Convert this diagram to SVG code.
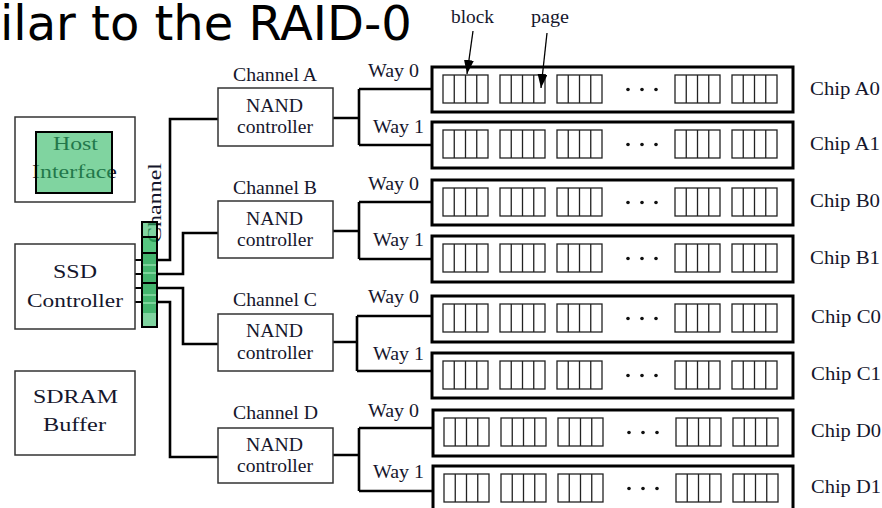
<svg xmlns="http://www.w3.org/2000/svg" xmlns:xlink="http://www.w3.org/1999/xlink" width="882" height="508" viewBox="0 0 882 508">
<style>
.t{font-family:"Liberation Serif","Times New Roman",serif;font-size:18px;fill:#15162c}
.box{fill:#fff;stroke:#333;stroke-width:1.5}
.chip{fill:#fff;stroke:#000;stroke-width:3}
.pg{fill:none;stroke:#222;stroke-width:1.3}
.w{fill:none;stroke:#000;stroke-width:2.6}
.stub{fill:none;stroke:#000;stroke-width:2}
.dot{fill:#111}
</style>
<defs>
<g id="blk">
<rect class="pg" x="0" y="0" width="45" height="28"/>
<path class="pg" d="M11.25 0V28M22.5 0V28M33.75 0V28"/>
</g>
<g id="inner">
<use xlink:href="#blk" href="#blk" x="11" y="8"/>
<use xlink:href="#blk" href="#blk" x="68" y="8"/>
<use xlink:href="#blk" href="#blk" x="125" y="8"/>
<circle class="dot" cx="196" cy="22.5" r="1.8"/>
<circle class="dot" cx="210" cy="22.5" r="1.8"/>
<circle class="dot" cx="224" cy="22.5" r="1.8"/>
<use xlink:href="#blk" href="#blk" x="243" y="8"/>
<use xlink:href="#blk" href="#blk" x="300" y="8"/>
</g>
<marker id="ah" markerWidth="14" markerHeight="10" refX="14" refY="5" orient="auto" markerUnits="userSpaceOnUse" viewBox="0 0 14 10" preserveAspectRatio="none">
<path d="M0 0L14 5L0 10Z" fill="#000"/>
</marker>
</defs>

<text x="0" y="40" font-family="DejaVu Sans, Verdana, sans-serif" font-size="48" fill="#000">ilar to the RAID-0</text>

<g id="connectors">
<path class="stub" d="M135 260H142M135 274H142M135 288H142M135 302H142"/>
<path class="w" d="M157 260H170V119H218"/>
<path class="w" d="M157 274H183V233H218"/>
<path class="w" d="M157 288H183V344H218"/>
<path class="w" d="M157 302H170V457H218"/>
<path class="w" d="M333 118H359M359 89V145M359 89H432M359 145H432"/>
<path class="w" d="M333 231H359M359 202V259M359 202H432M359 259H432"/>
<path class="w" d="M333 342H357M357 316V371M357 316H432M357 371H432"/>
<path class="w" d="M333 455H359M359 428V491M359 428H432M359 491H432"/>
</g>

<g id="labels-top">
<text class="t" x="451" y="23" textLength="43" lengthAdjust="spacingAndGlyphs">block</text>
<text class="t" x="531" y="23" textLength="38" lengthAdjust="spacingAndGlyphs">page</text>
</g>

<g id="host">
<rect class="box" x="15" y="117" width="120" height="85"/>
<text class="t" x="53" y="150" font-size="20" textLength="45" lengthAdjust="spacingAndGlyphs">Host</text>
<text class="t" x="32" y="178" font-size="20" textLength="85" lengthAdjust="spacingAndGlyphs">Interface</text>
<rect x="36" y="132" width="76" height="61" fill="#2bb761" fill-opacity="0.6" stroke="#000" stroke-width="2"/>
</g>

<g id="ssd">
<rect class="box" x="15" y="244" width="120" height="85"/>
<text class="t" x="53" y="278" font-size="20" textLength="44" lengthAdjust="spacingAndGlyphs">SSD</text>
<text class="t" x="27" y="307" font-size="20" textLength="96" lengthAdjust="spacingAndGlyphs">Controller</text>
</g>

<g id="sdram">
<rect class="box" x="15" y="371" width="120" height="84"/>
<text class="t" x="33" y="403" font-size="20" textLength="85" lengthAdjust="spacingAndGlyphs">SDRAM</text>
<text class="t" x="43" y="431" font-size="20" textLength="63" lengthAdjust="spacingAndGlyphs">Buffer</text>
</g>

<g id="channel-bus">
<text class="t" transform="translate(161,243) rotate(-90)" font-size="19" fill="#1a2a6a" textLength="80" lengthAdjust="spacingAndGlyphs">Channel</text>
<rect x="142" y="222" width="15" height="105" fill="#2bb761" fill-opacity="0.6"/>
<rect x="142" y="237" width="15" height="16" fill="#2bb761" fill-opacity="0.5"/>
<rect x="142" y="253" width="15" height="60" fill="#129a45" fill-opacity="0.55"/>
<path d="M142 265H157M142 273H157M142 295H157M142 303H157" stroke="#8fe0aa" stroke-width="1.5"/>
<path d="M142 237H157M142 253H157M142 283H157" stroke="#000" stroke-width="2"/>
<rect x="142" y="222" width="15" height="105" fill="none" stroke="#000" stroke-width="2"/>
</g>

<g id="nand-a">
<text class="t" x="233" y="81" textLength="84" lengthAdjust="spacingAndGlyphs">Channel A</text>
<rect class="box" x="218" y="88" width="115" height="58"/>
<text class="t" x="246" y="112" textLength="57" lengthAdjust="spacingAndGlyphs">NAND</text>
<text class="t" x="237" y="133" textLength="76" lengthAdjust="spacingAndGlyphs">controller</text>
<text class="t" x="368" y="77" textLength="51" lengthAdjust="spacingAndGlyphs">Way 0</text>
<text class="t" x="373" y="133" textLength="51" lengthAdjust="spacingAndGlyphs">Way 1</text>
</g>
<g id="nand-b">
<text class="t" x="233" y="194" textLength="84" lengthAdjust="spacingAndGlyphs">Channel B</text>
<rect class="box" x="218" y="201" width="115" height="57"/>
<text class="t" x="246" y="225" textLength="57" lengthAdjust="spacingAndGlyphs">NAND</text>
<text class="t" x="237" y="246" textLength="76" lengthAdjust="spacingAndGlyphs">controller</text>
<text class="t" x="368" y="190" textLength="51" lengthAdjust="spacingAndGlyphs">Way 0</text>
<text class="t" x="373" y="246" textLength="51" lengthAdjust="spacingAndGlyphs">Way 1</text>
</g>
<g id="nand-c">
<text class="t" x="233" y="306" textLength="84" lengthAdjust="spacingAndGlyphs">Channel C</text>
<rect class="box" x="218" y="314" width="115" height="57"/>
<text class="t" x="246" y="337" textLength="57" lengthAdjust="spacingAndGlyphs">NAND</text>
<text class="t" x="237" y="359" textLength="76" lengthAdjust="spacingAndGlyphs">controller</text>
<text class="t" x="368" y="303" textLength="51" lengthAdjust="spacingAndGlyphs">Way 0</text>
<text class="t" x="373" y="360" textLength="51" lengthAdjust="spacingAndGlyphs">Way 1</text>
</g>
<g id="nand-d">
<text class="t" x="233" y="419" textLength="85" lengthAdjust="spacingAndGlyphs">Channel D</text>
<rect class="box" x="218" y="428" width="115" height="55"/>
<text class="t" x="246" y="451" textLength="57" lengthAdjust="spacingAndGlyphs">NAND</text>
<text class="t" x="237" y="472" textLength="76" lengthAdjust="spacingAndGlyphs">controller</text>
<text class="t" x="368" y="417" textLength="51" lengthAdjust="spacingAndGlyphs">Way 0</text>
<text class="t" x="373" y="478" textLength="51" lengthAdjust="spacingAndGlyphs">Way 1</text>
</g>

<g id="chip-a0"><rect class="chip" x="432" y="67" width="361" height="45"/><use xlink:href="#inner" href="#inner" x="432" y="67"/><text class="t" x="810" y="95" textLength="70" lengthAdjust="spacingAndGlyphs">Chip A0</text></g>
<g id="chip-a1"><rect class="chip" x="432" y="122" width="361" height="46"/><use xlink:href="#inner" href="#inner" x="432" y="122"/><text class="t" x="810" y="150" textLength="70" lengthAdjust="spacingAndGlyphs">Chip A1</text></g>
<g id="chip-b0"><rect class="chip" x="432" y="180" width="361" height="45"/><use xlink:href="#inner" href="#inner" x="432" y="180"/><text class="t" x="810" y="207" textLength="70" lengthAdjust="spacingAndGlyphs">Chip B0</text></g>
<g id="chip-b1"><rect class="chip" x="432" y="236" width="361" height="46"/><use xlink:href="#inner" href="#inner" x="432" y="236"/><text class="t" x="810" y="264" textLength="70" lengthAdjust="spacingAndGlyphs">Chip B1</text></g>
<g id="chip-c0"><rect class="chip" x="432" y="296" width="361" height="46"/><use xlink:href="#inner" href="#inner" x="432" y="296"/><text class="t" x="811" y="323" textLength="70" lengthAdjust="spacingAndGlyphs">Chip C0</text></g>
<g id="chip-c1"><rect class="chip" x="432" y="353" width="361" height="45"/><use xlink:href="#inner" href="#inner" x="432" y="353"/><text class="t" x="811" y="380" textLength="70" lengthAdjust="spacingAndGlyphs">Chip C1</text></g>
<g id="chip-d0"><rect class="chip" x="433" y="410" width="360" height="46"/><use xlink:href="#inner" href="#inner" x="433" y="410"/><text class="t" x="811" y="437" textLength="70" lengthAdjust="spacingAndGlyphs">Chip D0</text></g>
<g id="chip-d1"><rect class="chip" x="433" y="466" width="360" height="46"/><use xlink:href="#inner" href="#inner" x="433" y="466"/><text class="t" x="811" y="493" textLength="70" lengthAdjust="spacingAndGlyphs">Chip D1</text></g>

<g id="pointer-arrows">
<line x1="473" y1="31" x2="467" y2="74" stroke="#000" stroke-width="1.3" marker-end="url(#ah)"/>
<line x1="547" y1="33" x2="541" y2="88" stroke="#000" stroke-width="1.3" marker-end="url(#ah)"/>
</g>
</svg>
